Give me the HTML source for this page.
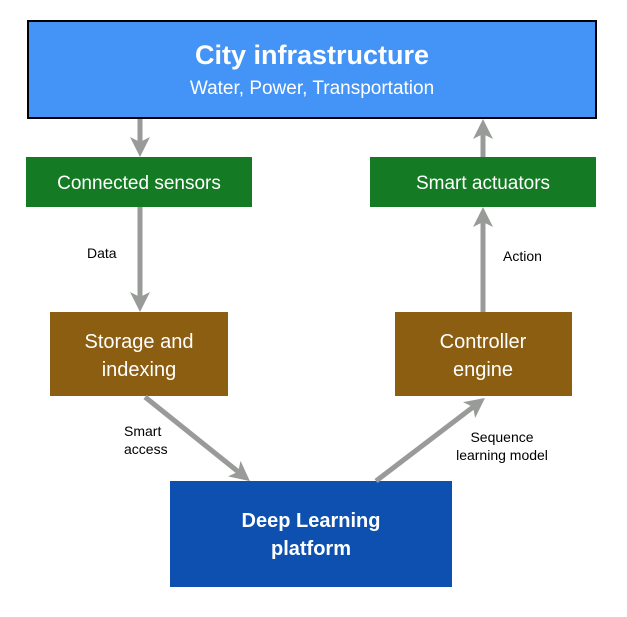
<!DOCTYPE html>
<html><head><style>
body{margin:0;background:#fff;}
svg text{font-family:"Liberation Sans",sans-serif;}
</style></head><body>
<svg width="627" height="612" viewBox="0 0 627 612" xmlns="http://www.w3.org/2000/svg">
<defs>
<marker id="ah" markerWidth="4" markerHeight="4" refX="3" refY="2" orient="auto" markerUnits="strokeWidth">
<path d="M0,0 L4,2 L0,4 L1,2 Z" fill="#999b99"/>
</marker>
</defs>
<rect x="28" y="21" width="568" height="97" fill="#4394f6" stroke="#000" stroke-width="2"/>
<text x="312" y="64" text-anchor="middle" font-size="27" font-weight="bold" fill="#fff">City infrastructure</text>
<text x="312" y="94" text-anchor="middle" font-size="19" fill="#fff">Water, Power, Transportation</text>

<rect x="26" y="157" width="226" height="50" fill="#157a24"/>
<text x="139" y="189" text-anchor="middle" font-size="19" fill="#fff">Connected sensors</text>
<rect x="370" y="157" width="226" height="50" fill="#157a24"/>
<text x="483" y="189" text-anchor="middle" font-size="19" fill="#fff">Smart actuators</text>

<rect x="50" y="312" width="178" height="84" fill="#8c5e12"/>
<text x="139" y="348" text-anchor="middle" font-size="20" fill="#fff">Storage and</text>
<text x="139" y="376" text-anchor="middle" font-size="20" fill="#fff">indexing</text>
<rect x="395" y="312" width="177" height="84" fill="#8c5e12"/>
<text x="483" y="348" text-anchor="middle" font-size="20" fill="#fff">Controller</text>
<text x="483" y="376" text-anchor="middle" font-size="20" fill="#fff">engine</text>

<rect x="170" y="481" width="282" height="106" fill="#0d50b0"/>
<text x="311" y="527" text-anchor="middle" font-size="20" font-weight="bold" fill="#fff">Deep Learning</text>
<text x="311" y="555" text-anchor="middle" font-size="20" font-weight="bold" fill="#fff">platform</text>

<g stroke="#999b99" stroke-width="5" fill="none" marker-end="url(#ah)">
<line x1="140" y1="119" x2="140" y2="152"/>
<line x1="140" y1="207" x2="140" y2="307"/>
<line x1="483" y1="157" x2="483" y2="124"/>
<line x1="483" y1="312" x2="483" y2="212"/>
<line x1="145" y1="397" x2="246" y2="478"/>
<line x1="376" y1="481" x2="481" y2="401"/>
</g>

<g font-size="14" fill="#000">
<text x="87" y="258">Data</text>
<text x="503" y="261">Action</text>
<text x="124" y="436">Smart</text>
<text x="124" y="454">access</text>
<text x="502" y="442" text-anchor="middle">Sequence</text>
<text x="502" y="460" text-anchor="middle">learning model</text>
</g>
</svg>
</body></html>
